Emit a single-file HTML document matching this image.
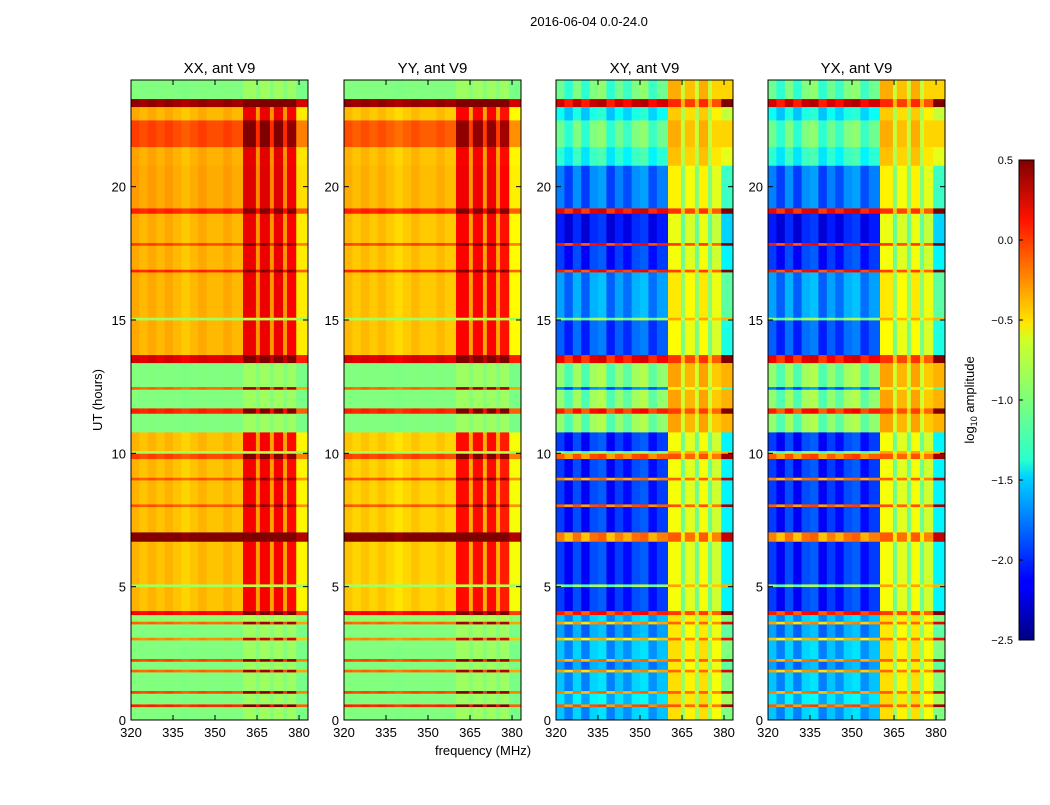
<!DOCTYPE html>
<html><head><meta charset="utf-8"><style>
body{margin:0;background:#fff;font-family:"Liberation Sans",sans-serif;}
svg text{font-family:"Liberation Sans",sans-serif;}
</style></head><body>
<svg id="fig" width="1050" height="800" xmlns="http://www.w3.org/2000/svg">
<defs>
<linearGradient id="jet" x1="0" y1="1" x2="0" y2="0">
<stop offset="0" stop-color="#000080"/><stop offset="0.11" stop-color="#0000ff"/>
<stop offset="0.125" stop-color="#0000ff"/><stop offset="0.34" stop-color="#00d4ff"/>
<stop offset="0.375" stop-color="#29ffce"/><stop offset="0.5" stop-color="#7dff7a"/>
<stop offset="0.625" stop-color="#ceff29"/><stop offset="0.66" stop-color="#ffe600"/>
<stop offset="0.875" stop-color="#ff1300"/><stop offset="1" stop-color="#800000"/>
</linearGradient>
</defs>
<text x="589" y="26" font-size="13" text-anchor="middle">2016-06-04 0.0-24.0</text>
<g id="panels"></g>
<text transform="translate(102,400) rotate(-90)" font-size="13" text-anchor="middle">UT (hours)</text>
<text x="483" y="755" font-size="13" text-anchor="middle">frequency (MHz)</text>
<rect x="1019" y="160" width="15" height="480" fill="url(#jet)" stroke="#000" stroke-width="1"/>
<g id="cbticks"></g>
<text transform="translate(974,400) rotate(-90)" font-size="13" text-anchor="middle">log<tspan font-size="9" dy="3">10</tspan><tspan dy="-3"> amplitude</tspan></text>
</svg>
<script>
// time segments (hours) and row values per panel
const segStart=[0,0.5,0.6,1.0,1.1,1.8,1.9,2.2,2.3,3.0,3.1,3.6,3.7,3.95,4.1,5.0,5.1,6.7,7.05,8.0,8.1,9.0,9.1,9.8,10.0,10.1,10.8,11.5,11.7,12.4,12.5,13.4,13.7,15.0,15.1,16.8,16.9,17.8,17.9,19.0,19.2,20.8,21.5,22.5,23.0,23.3];
const segEnd=[0.5,0.6,1.0,1.1,1.8,1.9,2.2,2.3,3.0,3.1,3.6,3.7,3.95,4.1,5.0,5.1,6.7,7.05,8.0,8.1,9.0,9.1,9.8,10.0,10.1,10.8,11.5,11.7,12.4,12.5,13.4,13.7,15.0,15.1,16.8,16.9,17.8,17.9,19.0,19.2,20.8,21.5,22.5,23.0,23.3,24];
const rowXX=[-1.0,0.0,-1.0,-0.1,-1.0,-0.2,-1.0,-0.1,-1.0,-0.3,-1.0,-0.2,-0.95,0.1,-0.45,-0.9,-0.45,0.5,-0.45,-0.15,-0.45,-0.15,-0.45,-0.1,-0.9,-0.45,-1.0,0.0,-1.0,-0.2,-1.0,0.2,-0.42,-0.9,-0.42,0.0,-0.42,-0.1,-0.42,0.0,-0.38,-0.4,-0.1,-0.42,0.4,-1.0];
const rowYY=[-1.0,0.0,-1.0,-0.1,-1.0,-0.2,-1.0,-0.1,-1.0,-0.3,-1.0,-0.2,-0.95,0.1,-0.5,-0.9,-0.5,0.5,-0.5,-0.15,-0.5,-0.15,-0.5,-0.1,-0.9,-0.5,-1.0,0.0,-1.0,-0.2,-1.0,0.2,-0.47,-0.9,-0.47,0.0,-0.47,-0.1,-0.47,0.0,-0.43,-0.45,-0.15,-0.47,0.4,-1.0];
const rowXY=[-1.6,-0.2,-1.5,-0.3,-1.6,-0.4,-1.7,-0.3,-1.6,-0.5,-1.7,-0.4,-1.6,0.0,-2.0,-1.0,-2.0,-0.3,-2.0,-0.2,-2.0,-0.3,-2.0,-0.2,-1.0,-2.0,-1.0,0.0,-1.0,-1.8,-1.0,0.1,-1.9,-1.0,-1.7,0.0,-2.0,0.0,-2.1,0.1,-1.8,-1.3,-1.1,-1.4,0.2,-1.1];
const rowYX=rowXY.slice();
// frequency bins (MHz) and column offsets
const binEdges=[320,323,326,329,332,335,338,341,344,347,350,353,356,360,364.6,366,369.6,371,374.3,375.7,379,383.2];
const colPar=[0.05,0,0.05,0,0.05,0,-0.05,0,0.05,0,0,0.05,0,0.6,0.1,0.6,0.1,0.6,0.1,0.55,-0.15];
const colCross=[0.05,-0.15,0.1,-0.15,0.1,0.15,-0.15,0.05,-0.1,0.1,0.15,-0.1,0.05,1.5,0.8,1.4,0.8,1.5,0.8,1.3,0.6];
const xTicks=[320,335,350,365,380];
const yTicks=[0,5,10,15,20];
const cbTicks=[0.5,0.0,-0.5,-1.0,-1.5,-2.0,-2.5];

const vmin=-2.5,vmax=0.5,T0=80,T1=720,F0=320,F1=383.2;
const panelX=[131,344,556,768],PW=177;
const panelTitles=["XX, ant V9","YY, ant V9","XY, ant V9","YX, ant V9"];
const rows=[rowXX,rowYY,rowXY,rowYX],cols=[colPar,colPar,colCross,colCross];
function jet(v){let t=(v-vmin)/(vmax-vmin);t=Math.max(0,Math.min(1,t));
 const c=x=>Math.round(255*Math.max(0,Math.min(1,x)));
 return `rgb(${c(1.5-Math.abs(4*t-3))},${c(1.5-Math.abs(4*t-2))},${c(1.5-Math.abs(4*t-1))})`;}
const yS=h=>T1-(h/24)*(T1-T0);
const NS="http://www.w3.org/2000/svg";
const G=document.getElementById('panels');
function mk(tag,attrs,parent){const e=document.createElementNS(NS,tag);for(const k in attrs)e.setAttribute(k,attrs[k]);parent.appendChild(e);return e;}
for(let p=0;p<4;p++){
 const x0=panelX[p];const xS=f=>x0+(f-F0)/(F1-F0)*PW;
 const g=mk('g',{},G);
 
 
 for(let i=0;i<segStart.length;i++){
  for(let j=0;j<binEdges.length-1;j++){
   const row=rows[p][i],off=cols[p][j];
   let v=row+off;
   if(p<2&&row<-0.8) v=row+off*0.15;
   if(off>0.7&&p>=2) v=-1.4+0.6*off+(row+1.5)*0.3;
   const r=mk('rect',{x:xS(binEdges[j]),y:yS(segEnd[i]),width:xS(binEdges[j+1])-xS(binEdges[j])+0.4,height:yS(segStart[i])-yS(segEnd[i])+0.4,fill:jet(v)},g);
   
   
  }
 }
 const fr=mk('rect',{x:x0,y:T0,width:PW,height:T1-T0,fill:'none',stroke:'#000','stroke-width':1},g);
 
 
 const tt=mk('text',{x:x0+PW/2,y:73,'font-size':15,'text-anchor':'middle'},G);tt.textContent=panelTitles[p];
 
 
 xTicks.forEach(f=>{const x=xS(f);mk('line',{x1:x,x2:x,y1:T1,y2:T1-5,stroke:'#000'},G);mk('line',{x1:x,x2:x,y1:T0,y2:T0+5,stroke:'#000'},G);
  const t=mk('text',{x:x,y:T1+17,'font-size':13,'text-anchor':'middle'},G);t.textContent=f;
  
  });
 yTicks.forEach(h=>{const y=yS(h);mk('line',{x1:x0,x2:x0+5,y1:y,y2:y,stroke:'#000'},G);mk('line',{x1:x0+PW,x2:x0+PW-5,y1:y,y2:y,stroke:'#000'},G);
  const t=mk('text',{x:x0-5,y:y+5,'font-size':13,'text-anchor':'end'},G);t.textContent=h;
  
  });
}
const CB=document.getElementById('cbticks');
cbTicks.forEach(v=>{const y=640-(v-vmin)/(vmax-vmin)*480;
 mk('line',{x1:1019,x2:1023,y1:y,y2:y,stroke:'#000'},CB);
 const t=mk('text',{x:1013,y:y+4,'font-size':11,'text-anchor':'end'},CB);t.textContent=(v<0?'\u2212':'')+Math.abs(v).toFixed(1);
 
 
});
</script>
</body></html>
